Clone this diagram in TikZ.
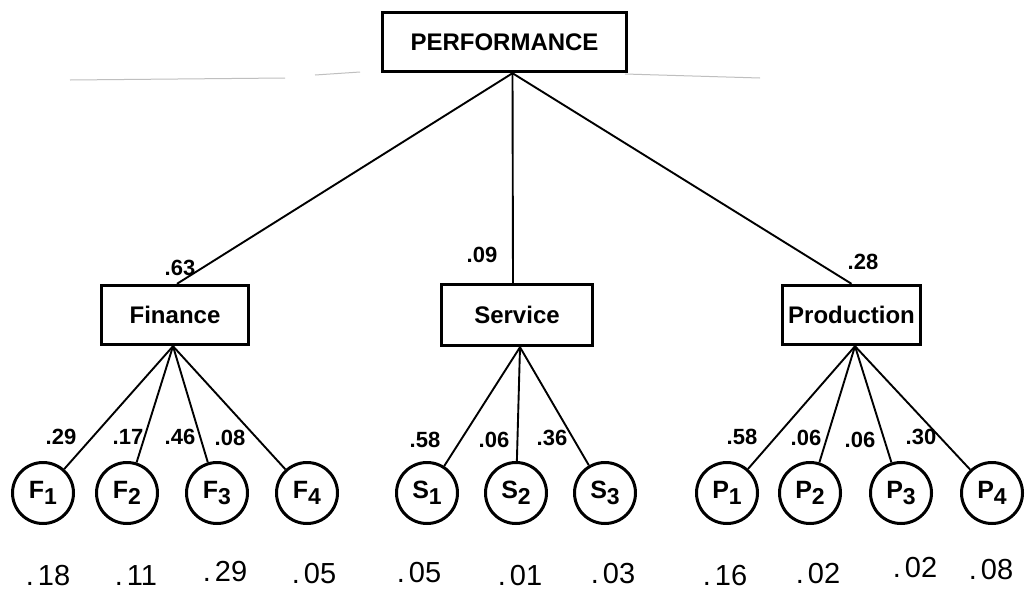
\documentclass[tikz,border=0pt]{standalone}
\usepackage{fontspec}
\setmainfont{Liberation Sans}
\newcommand\lowsub[1]{\raisebox{-6pt}{\fontsize{23}{24}\selectfont #1}}
\begin{document}
\begin{tikzpicture}[x=1pt,y=-1pt,
  box/.style={draw, line width=3.4pt, inner sep=0pt, font=\fontsize{24}{26}\selectfont\bfseries},
  circ/.style={draw, circle, line width=3pt, minimum size=61pt, inner sep=0pt, font=\fontsize{25}{26}\selectfont\bfseries},
  wt/.style={font=\fontsize{22}{24}\selectfont\bfseries, inner sep=0pt},
  val/.style={font=\fontsize{29}{30}\selectfont, inner sep=0pt},
  link/.style={line width=1.9pt},
  scan/.style={line width=1pt, gray!50}]
\useasboundingbox (0,0) rectangle (1030,592);
\fill[white] (0,0) rectangle (1030,592);

% faint scan line
\draw[scan] (70,80) -- (285,78);
\draw[scan] (315,75) -- (360,72);
\draw[scan] (625,74) -- (760,78);

% boxes
\node[box, minimum width=244pt, minimum height=59pt] (perf) at (504.5,42) {PERFORMANCE};
\node[box, minimum width=147pt, minimum height=59pt] (fin) at (175,315) {Finance};
\node[box, minimum width=151pt, minimum height=61pt] (serv) at (517,315) {Service};
\node[box, minimum width=138pt, minimum height=59pt] (prod) at (851.5,315) {Production};

% circles
\node[circ] (f1) at (43,493) {F\lowsub{1}};
\node[circ] (f2) at (127,493) {F\lowsub{2}};
\node[circ] (f3) at (217,493) {F\lowsub{3}};
\node[circ] (f4) at (307,493) {F\lowsub{4}};
\node[circ] (s1) at (427,493) {S\lowsub{1}};
\node[circ] (s2) at (516,493) {S\lowsub{2}};
\node[circ] (s3) at (605,493) {S\lowsub{3}};
\node[circ] (p1) at (727,493) {P\lowsub{1}};
\node[circ] (p2) at (810,493) {P\lowsub{2}};
\node[circ] (p3) at (901,493) {P\lowsub{3}};
\node[circ] (p4) at (992,493) {P\lowsub{4}};

% connectors from PERFORMANCE
\draw[link] ([xshift=8pt]perf.south) -- ([xshift=2pt]fin.north);
\draw[link] ([xshift=8pt]perf.south) -- ([xshift=-4pt]serv.north);
\draw[link] ([xshift=8pt]perf.south) -- (prod.north);

% connectors to leaves
\foreach \c in {f1,f2,f3,f4} \draw[link] ([xshift=-2pt]fin.south) -- (\c);
\foreach \c in {s1,s2,s3} \draw[link] ([xshift=3pt]serv.south) -- (\c);
\foreach \c in {p1,p2,p3,p4} \draw[link] ([xshift=3.5pt]prod.south) -- (\c);

% top weights
\node[wt] (w63) at (180,268) {.63};
\node[wt] (w09) at (482,255) {.09};
\node[wt] (w28) at (863,262) {.28};

% leaf weights
\node[wt] (wf1) at (61,437) {.29};
\node[wt] (wf2) at (128,437) {.17};
\node[wt] (wf3) at (180,437) {.46};
\node[wt] (wf4) at (230,438) {.08};
\node[wt] (ws1) at (425,440) {.58};
\node[wt] (ws2) at (494,440) {.06};
\node[wt] (ws3) at (552,438) {.36};
\node[wt] (wp1) at (742,437) {.58};
\node[wt] (wp2) at (806,438) {.06};
\node[wt] (wp3) at (860,440) {.06};
\node[wt] (wp4) at (921,437) {.30};

% bottom values
\node[val] (vf1) at (48,576) {.\kern4pt18};
\node[val] (vf2) at (136,576) {.\kern4pt11};
\node[val] (vf3) at (225,572) {.\kern4pt29};
\node[val] (vf4) at (314,574) {.\kern4pt05};
\node[val] (vs1) at (419,573) {.\kern4pt05};
\node[val] (vs2) at (520,576) {.\kern4pt01};
\node[val] (vs3) at (613,574) {.\kern4pt03};
\node[val] (vp1) at (725,576) {.\kern4pt16};
\node[val] (vp2) at (818,574) {.\kern4pt02};
\node[val] (vp3) at (915,568) {.\kern4pt02};
\node[val] (vp4) at (991,570) {.\kern4pt08};
\end{tikzpicture}
\end{document}
